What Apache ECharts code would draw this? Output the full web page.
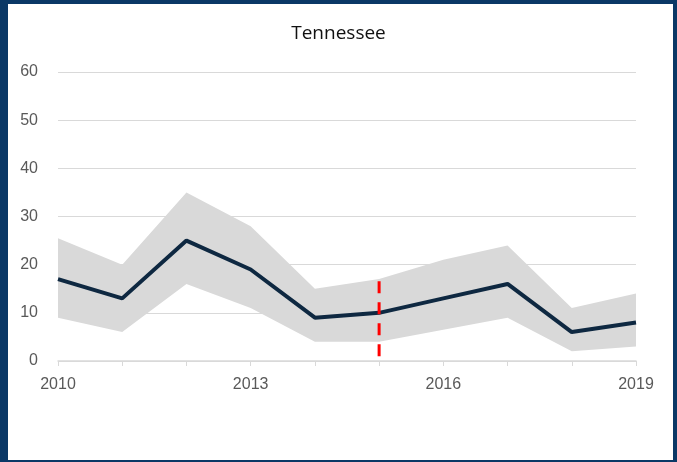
<!DOCTYPE html>
<html>
<head>
<meta charset="utf-8">
<script src="https://cdn.jsdelivr.net/npm/echarts@6/dist/echarts.min.js"></script>
<style>
html,body{margin:0;padding:0;background:#0a3866;}
#wrap{position:absolute;left:8px;top:4px;width:665px;height:456px;background:#fff;}
#chart{position:absolute;left:-8px;top:-4px;width:677px;height:462px;}
</style>
</head>
<body>
<div id="wrap"><div id="chart"></div></div>
<script>
const years = ['2010','2011','2012','2013','2014','2015','2016','2017','2018','2019'];
const central = [17, 13, 25, 19, 9, 10, 13, 16, 6, 8];
const upper = [25.5, 20, 35, 28, 15, 17, 21, 24, 11, 14];
const lower = [9, 6, 16, 11, 4, 4, 6.5, 9, 2, 3];
const yTicks = [0, 10, 20, 30, 40, 50, 60];
const dividerYear = '2015';
const dividerRange = [1, 17];

const chart = echarts.init(document.getElementById('chart'), null, {renderer: 'canvas'});
const bandWidth = upper.map((u, i) => u - lower[i]);
chart.setOption({
  backgroundColor: 'transparent',
  animation: false,
  title: {
    text: 'Tennessee', left: 'center', top: 19,
    textStyle: {fontFamily: 'Open Sans', fontSize: 19, fontWeight: 'normal', color: '#111'}
  },
  grid: {left: 58, right: 41, top: 72, bottom: 101},
  xAxis: {
    type: 'category', data: years, boundaryGap: false,
    axisLine: {lineStyle: {color: '#d9d9d9', width: 1.5}},
    axisTick: {show: true, interval: 0, length: 5, lineStyle: {color: '#d9d9d9'}},
    axisLabel: {interval: 2, margin: 16, color: '#595959', fontFamily: 'Liberation Sans', fontSize: 16},
    splitLine: {show: false}
  },
  yAxis: {
    type: 'value', min: yTicks[0], max: yTicks[yTicks.length-1], interval: 10,
    axisLine: {show: false}, axisTick: {show: false},
    axisLabel: {margin: 20, color: '#595959', fontFamily: 'Liberation Sans', fontSize: 16},
    splitLine: {lineStyle: {color: '#d9d9d9', width: 1.2}}
  },
  series: [
    {type: 'line', data: lower, stack: 'band', symbol: 'none', lineStyle: {opacity: 0}, silent: true},
    {type: 'line', data: bandWidth, stack: 'band', symbol: 'none', lineStyle: {opacity: 0},
     areaStyle: {color: '#d9d9d9', opacity: 1}, silent: true},
    {type: 'line', data: central, symbol: 'none', lineStyle: {color: '#0e2841', width: 4}, z: 5},
    {type: 'line', data: [[dividerYear, dividerRange[0]], [dividerYear, dividerRange[1]]], symbol: 'none',
     lineStyle: {color: '#ff0000', width: 3, type: [12, 9]}, z: 6}
  ]
});
</script>
</body>
</html>
